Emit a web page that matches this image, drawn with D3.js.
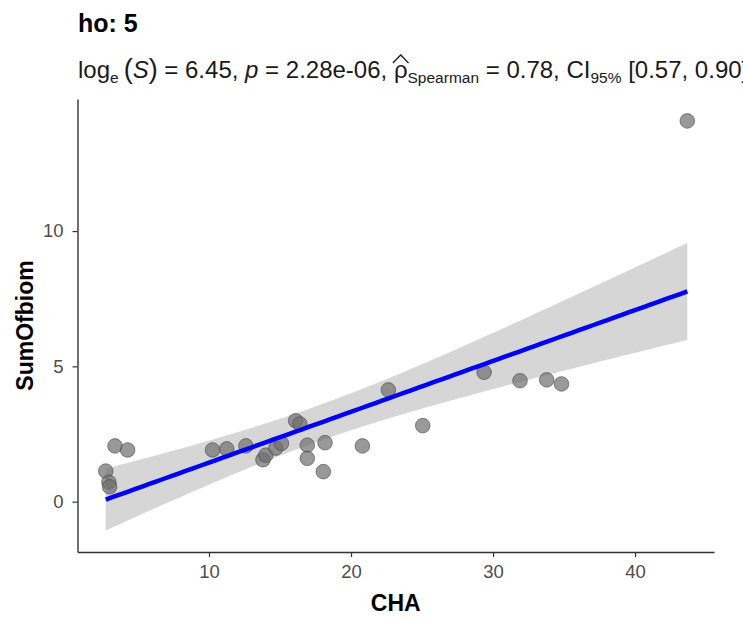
<!DOCTYPE html>
<html>
<head>
<meta charset="utf-8">
<script src="https://cdn.jsdelivr.net/npm/d3@7"></script>
<style>
  body { margin: 0; background: #fff; overflow: hidden; }
  text { font-family: "Liberation Sans", Arial, sans-serif; }
</style>
</head>
<body>
<svg id="chart"></svg>
<script>
// CHA vs SumOfbiom, group ho: 5
const cha = [2.73, 2.95, 3.0, 3.38, 4.27, 10.25, 11.25, 12.6, 13.8, 14.0, 14.7, 15.1,
  16.1, 16.4, 16.92, 16.92, 18.17, 18.05, 20.8, 22.63, 25.05, 29.37, 31.9, 33.78, 34.82, 43.68];
const sumOfBiom = [1.13, 0.72, 0.55, 2.06, 1.91, 1.91, 1.95, 2.06, 1.55, 1.72, 1.98, 2.15,
  2.99, 2.87, 2.09, 1.6, 2.18, 1.11, 2.06, 4.13, 2.81, 4.78, 4.47, 4.5, 4.35, 14.07];
const xTicks = [10, 20, 30, 40];
const yTicks = [0, 5, 10];
const xLimits = [0.74, 45.56];
const yLimits = [-1.86, 14.88];

const W = 743, H = 620;
const svg = d3.select('#chart')
  .attr('width', W)
  .attr('height', H)
  .attr('viewBox', `0 0 ${W} ${H}`);

const pLeft = 77.5, pRight = 714, pTop = 99, pBottom = 552;

const x = d3.scaleLinear().domain(xLimits).range([pLeft, pRight]);
const y = d3.scaleLinear().domain(yLimits).range([pBottom, pTop]);

// linear fit + 95% confidence band
const n = cha.length;
const mx = d3.mean(cha), my = d3.mean(sumOfBiom);
let sxx = 0, sxy = 0;
for (let i = 0; i < n; i++) {
  sxx += (cha[i] - mx) ** 2;
  sxy += (cha[i] - mx) * (sumOfBiom[i] - my);
}
const slope = sxy / sxx, icpt = my - slope * mx;
let sse = 0;
for (let i = 0; i < n; i++) sse += (sumOfBiom[i] - icpt - slope * cha[i]) ** 2;
const s = Math.sqrt(sse / (n - 2));
const tCrit = 2.064;
const [xmin, xmax] = d3.extent(cha);
const fit = d3.range(81).map(k => {
  const xv = xmin + (xmax - xmin) * k / 80;
  const yv = icpt + slope * xv;
  const se = s * Math.sqrt(1 / n + (xv - mx) ** 2 / sxx);
  return { x: xv, y: yv, lo: yv - tCrit * se, hi: yv + tCrit * se };
});

svg.append('path')
  .datum(fit)
  .attr('fill', '#d6d6d6')
  .attr('d', d3.area().x(d => x(d.x)).y0(d => y(d.lo)).y1(d => y(d.hi)));

// points
svg.append('g')
  .selectAll('circle')
  .data(cha.map((c, i) => [c, sumOfBiom[i]]))
  .join('circle')
  .attr('cx', d => x(d[0]))
  .attr('cy', d => y(d[1]))
  .attr('r', 7.3)
  .attr('fill', 'rgba(110,110,110,0.7)')
  .attr('stroke', 'rgba(70,70,70,0.6)')
  .attr('stroke-width', 1);

svg.append('path')
  .datum(fit)
  .attr('fill', 'none')
  .attr('stroke', '#0000ff')
  .attr('stroke-width', 4.5)
  .attr('d', d3.line().x(d => x(d.x)).y(d => y(d.y)));

// axes
const xAxis = svg.append('g')
  .attr('transform', `translate(0, ${pBottom})`)
  .call(d3.axisBottom(x).tickValues(xTicks).tickSize(5).tickPadding(8).tickSizeOuter(0));
const yAxis = svg.append('g')
  .attr('transform', `translate(${pLeft}, 0)`)
  .call(d3.axisLeft(y).tickValues(yTicks).tickSize(5).tickPadding(9).tickSizeOuter(0));

[xAxis, yAxis].forEach(a => {
  a.select('.domain').attr('stroke', '#333').attr('stroke-width', 1.4);
  a.selectAll('.tick line').attr('stroke', '#333').attr('stroke-width', 1.2);
  a.selectAll('.tick text')
    .attr('fill', '#4d4d4d')
    .style('font-size', '18.5px')
    .style('font-family', '"Liberation Sans", Arial, sans-serif');
});

svg.append('text')
  .attr('x', (pLeft + pRight) / 2)
  .attr('y', 611)
  .attr('text-anchor', 'middle')
  .style('font-size', '23px')
  .style('font-weight', 'bold')
  .text('CHA');

svg.append('text')
  .attr('transform', `translate(33, ${(pTop + pBottom) / 2}) rotate(-90)`)
  .attr('text-anchor', 'middle')
  .style('font-size', '23px')
  .style('font-weight', 'bold')
  .text('SumOfbiom');

// title + subtitle
svg.append('text')
  .attr('x', 78)
  .attr('y', 32)
  .style('font-size', '25px')
  .style('font-weight', 'bold')
  .text('ho: 5');

const sub = svg.append('text')
  .attr('x', 78)
  .attr('y', 78)
  .style('font-size', '24px')
  .attr('fill', '#1a1a1a');

const parts = [
  { t: 'log' },
  { t: 'e', sub: true },
  { t: '(', dx: 5, big: true },
  { t: 'S', it: true },
  { t: ')', big: true },
  { t: ' = 6.45, ' },
  { t: 'p', it: true },
  { t: ' = 2.28e-06, ' },
  { t: 'ρ' },
  { t: 'Spearman', sub: true },
  { t: ' = 0.78, CI' },
  { t: '95%', sub: true },
  { t: ' [0.57, 0.90]' }
];

let wasSub = false;
parts.forEach(p => {
  const ts = sub.append('tspan').text(p.t);
  if (p.sub && !wasSub) ts.attr('dy', 5);
  if (!p.sub && wasSub) ts.attr('dy', -5);
  if (p.dx) ts.attr('dx', p.dx);
  if (p.sub) ts.style('font-size', '15.5px');
  if (p.big) ts.style('font-size', '27px');
  if (p.it) ts.style('font-style', 'italic');
  wasSub = !!p.sub;
});

// hat over rho
const full = parts.map(p => p.t).join('');
const ri = full.indexOf('ρ');
const node = sub.node();
const r0 = node.getStartPositionOfChar(ri).x;
const r1 = node.getEndPositionOfChar(ri).x;
svg.append('path')
  .attr('d', `M${r0 - 1},${63} L${(r0 + r1) / 2},${55} L${r1 + 1},${63}`)
  .attr('fill', 'none')
  .attr('stroke', '#1a1a1a')
  .attr('stroke-width', 1.3);
</script>
</body>
</html>
